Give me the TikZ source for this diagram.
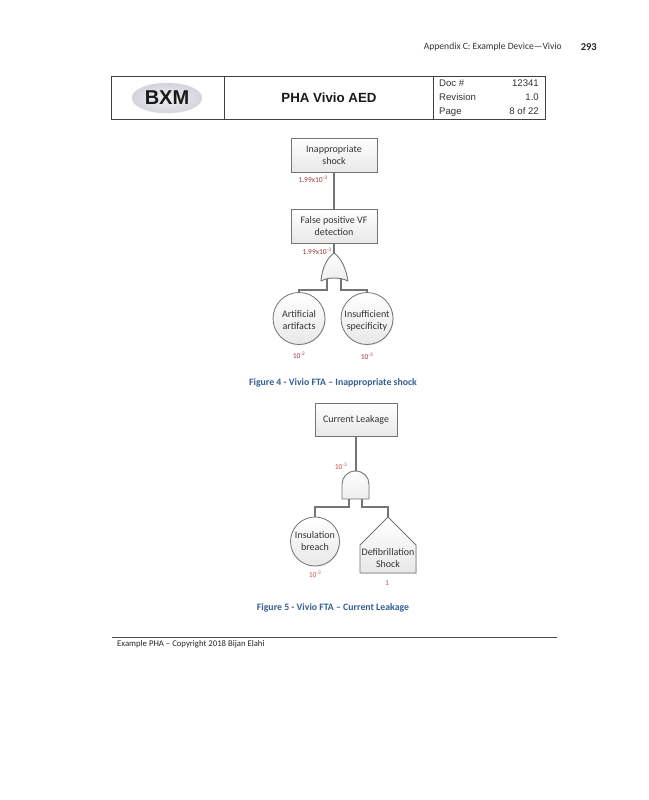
\documentclass[tikz,border=0pt]{standalone}
\usepackage{fontspec}
\setmainfont{Carlito}
\newfontfamily\arialfont{Liberation Sans}
\usetikzlibrary{arrows.meta,positioning,calc,shapes.geometric,shadows}
\definecolor{edgegray}{HTML}{747474}
\definecolor{probdark}{HTML}{9B3A3D}
\definecolor{problight}{HTML}{C8504D}
\definecolor{capblue}{HTML}{365F91}
\begin{document}
\begin{tikzpicture}[
    x=1pt,y=-1pt,
    wire/.style={draw=edgegray,line width=1.1pt},
    evbox/.style={draw=edgegray,line width=0.8pt,top color=white,bottom color=black!9,
      drop shadow={shadow xshift=0.8pt,shadow yshift=-0.8pt,opacity=0.2},
      font=\fontsize{10}{12}\selectfont,text=black!80,align=center,outer sep=0pt,inner sep=0pt},
    evcirc/.style={evbox,circle},
    prob/.style={font=\fontsize{7.5}{9}\selectfont,text=probdark,inner sep=0pt},
    figcap/.style={font=\bfseries\fontsize{9.8}{11}\selectfont,text=capblue,inner sep=0pt},
    gatefill/.style={draw=edgegray,line width=0.9pt,top color=white,bottom color=black!7,line join=round},
    hdrtxt/.style={font=\arialfont\fontsize{9.6}{11}\selectfont,text=black!80,inner sep=0pt}]
\useasboundingbox[fill=white] (0,0) rectangle (648,800);
% ===== running head =====
\node[font=\fontsize{9.6}{11}\selectfont,text=black!80,anchor=east,inner sep=0pt] (runhead) at (562,47) {Appendix C: Example Device---Vivio};
\node[font=\bfseries\fontsize{10.5}{12}\selectfont,text=black!85,anchor=east,inner sep=0pt] (pageno) at (597,47) {293};
% ===== document header table =====
\node[draw=black!75,line width=0.7pt,minimum width=434pt,minimum height=43pt,inner sep=0pt] (hdr) at (328,97.5) {};
\draw[draw=black!75,line width=0.7pt] (224,0 |- hdr.north) -- (224,0 |- hdr.south);
\draw[draw=black!75,line width=0.7pt] (433,0 |- hdr.north) -- (433,0 |- hdr.south);
\node[ellipse,draw=black!15,line width=0.4pt,inner color=black!6,outer color=blue!25!black!17,minimum width=70pt,minimum height=30pt,inner sep=0pt] (logo) at (167,98) {};
\node[font=\arialfont\bfseries\fontsize{20}{22}\selectfont,text=black!90,inner sep=0pt] (logotxt) at (logo.center) {BXM};
\node[font=\arialfont\bfseries\fontsize{13.3}{15}\selectfont,text=black!90,inner sep=0pt] (hdrtitle) at (329,98) {PHA Vivio AED};
\node[hdrtxt,anchor=base west] (docl) at (439,86) {Doc \#};
\node[hdrtxt,anchor=base east] (docv) at (539,86) {12341};
\node[hdrtxt,anchor=base west] (revl) at (439,100.5) {Revision};
\node[hdrtxt,anchor=base east] (revv) at (539,100.5) {1.0};
\node[hdrtxt,anchor=base west] (pagel) at (439,114.5) {Page};
\node[hdrtxt,anchor=base east] (pagev) at (539,114.5) {8 of 22};
% ===== inappropriate shock tree =====
\node[evbox,minimum width=86pt,minimum height=34pt] (shock) at (334,155) {Inappropriate\\shock};
\node[evbox,minimum width=86pt,minimum height=34pt] (falsepos) at (334,226) {False positive VF\\detection};
\node[evcirc,minimum size=52pt] (artif) at (299,318.5) {\rule{0pt}{11pt}Artificial\\artifacts};
\node[evcirc,minimum size=52pt] (insuf) at (367,318.5) {\rule{0pt}{11pt}Insufficient\\specificity};
\coordinate (ortop) at (334,253);
\coordinate (orleg) at (327,279);
\coordinate (orreg) at (341,279);
\draw[wire,line width=1.5pt] (shock) -- (falsepos);
\draw[wire] (falsepos) -- (ortop);
\draw[wire] (orleg) |- (299,290) -- (artif.north);
\draw[wire] (orreg) |- (367,290) -- (insuf.north);
\draw[gatefill] (ortop) .. controls (327,258) and (322,268) .. (321,281)
  .. controls (325,279) and (329,278) .. (334,278)
  .. controls (339,278) and (344,279) .. (348,281)
  .. controls (346,268) and (341,258) .. (ortop) -- cycle;
\node[prob] (pshock) at (313,179) {1.99x10\textsuperscript{-3}};
\node[prob] (pfalse) at (317,251) {1.99x10\textsuperscript{-3}};
\node[prob] (partif) at (299,355) {10\textsuperscript{-2}};
\node[prob] (pinsuf) at (367,356) {10\textsuperscript{-3}};
\node[figcap] (figfour) at (333,383) {Figure 4 - Vivio FTA -- Inappropriate shock};
% ===== current leakage tree =====
\node[evbox,minimum width=82pt,minimum height=33pt] (leak) at (356,419.5) {Current Leakage};
\node[evcirc,minimum size=49pt] (breach) at (315,541.5) {Insulation\\breach};
\coordinate (andtop) at (356,471);
\coordinate (andleg) at (349,499);
\coordinate (andreg) at (362,499);
\coordinate (defibtop) at (388,517);
\draw[wire] (leak) -- (andtop);
\draw[wire] (andleg) |- (315,507) -- (breach.north);
\draw[wire] (andreg) |- (388,507) -- (defibtop);
\draw[gatefill] (342,499) -- (342,484) arc[start angle=180,end angle=0,x radius=13.5pt,y radius=13pt] -- (369,499) -- cycle;
\draw[evbox] (defibtop) -- (416,545) -- (416,573) -- (360,573) -- (360,545) -- cycle;
\node[font=\fontsize{10}{12}\selectfont,text=black!80,align=center,inner sep=0pt] (defib) at (388,558.5) {Defibrillation\\Shock};
\node[prob,text=problight] (pleak) at (341,466) {10\textsuperscript{-3}};
\node[prob,text=problight] (pbreach) at (315,574) {10\textsuperscript{-3}};
\node[prob,text=problight] (pdefib) at (387,583) {1};
\node[figcap] (figfive) at (333,608) {Figure 5 - Vivio FTA -- Current Leakage};
% ===== page footer =====
\coordinate (footl) at (112,637);
\coordinate (footr) at (557,637);
\draw[draw=black!70,line width=0.7pt] (footl) -- (footr);
\node[font=\fontsize{8.7}{10}\selectfont,text=black!85,anchor=west,inner sep=0pt] (foot) at (117,644) {Example PHA -- Copyright 2018 Bijan Elahi};
\end{tikzpicture}
\end{document}
